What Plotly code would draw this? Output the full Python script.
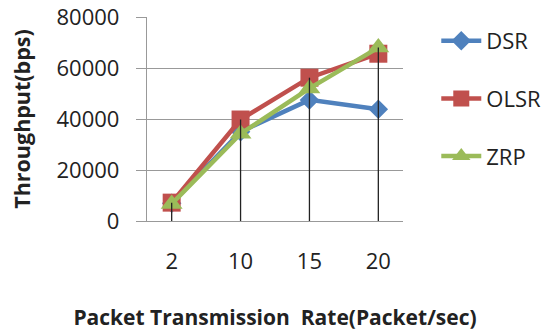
import plotly.graph_objects as go

rates = ["2", "10", "15", "20"]
dsr = [7000, 35000, 47500, 43800]
olsr = [7200, 39800, 56200, 65600]
zrp = [6700, 34200, 52000, 68000]

FONT = "Open Sans"
fig = go.Figure()
series = [("DSR", dsr, "#4F81BD", "diamond", 15),
          ("OLSR", olsr, "#C0504D", "square", 18),
          ("ZRP", zrp, "#9BBB59", "triangle-up", 19)]
for name, vals, col, sym, sz in series:
    fig.add_trace(go.Scatter(x=rates, y=vals, name=name, mode="lines+markers",
                             line=dict(color=col, width=4.5),
                             marker=dict(symbol=sym, size=sz, color=col),
                             legendgroup=name))

# drop lines from highest point to the axis
dx, dy = [], []
for i, r in enumerate(rates):
    top = max(dsr[i], olsr[i], zrp[i])
    dx += [r, r, None]
    dy += [0, top, None]
fig.add_trace(go.Scatter(x=dx, y=dy, mode="lines", line=dict(color="#222222", width=1.3),
                         showlegend=False, hoverinfo="skip"))

fig.update_layout(
    width=545, height=331,
    margin=dict(l=147, r=142, t=17, b=110, autoexpand=False),
    paper_bgcolor="white", plot_bgcolor="white",
    font=dict(family=FONT, size=22, color="#222222"),
    showlegend=True,
    legend=dict(x=1.13, xanchor="left", y=0.985, yanchor="top", xref="paper",
                font=dict(size=22, color="#222222"), tracegroupgap=26,
                bgcolor="rgba(0,0,0,0)", itemwidth=40),
    xaxis=dict(type="category", showgrid=False, showline=True, linecolor="#999999",
               linewidth=1.3, ticks="", ticklabelstandoff=20, automargin=False,
               title=dict(text="<b>Packet Transmission  Rate(Packet/sec)</b>",
                          font=dict(size=21), standoff=38)),
    yaxis=dict(range=[0, 80000], dtick=20000, tickformat="d", showgrid=True,
               gridcolor="#999999", gridwidth=1.2, showline=True, linecolor="#999999",
               linewidth=1.3, ticks="outside", ticklen=10, tickcolor="#999999",
               ticklabelstandoff=12, zeroline=False, automargin=False,
               title=dict(text="<b>Throughput(bps)</b>", font=dict(size=21.5), standoff=20)),
)
fig.write_html("out.html", config={"displayModeBar": False},
               post_script="document.body.style.margin='0';document.body.style.padding='0';")
